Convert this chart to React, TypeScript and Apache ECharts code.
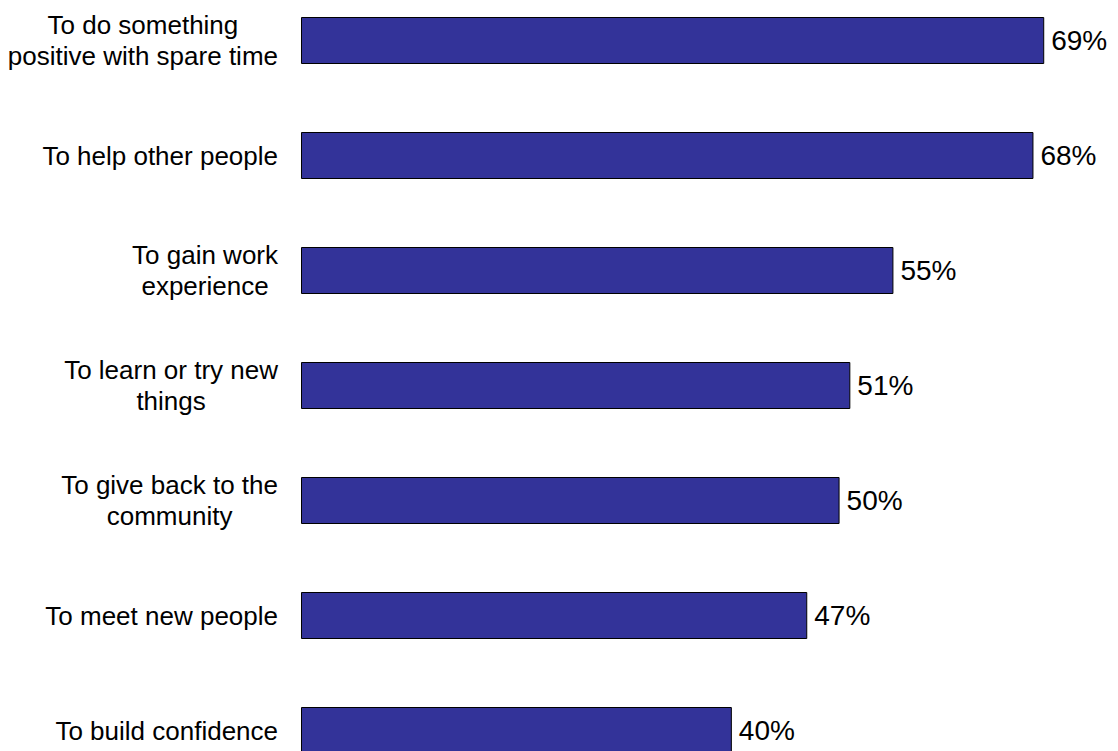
import React, { useEffect, useRef } from "react";
import * as echarts from "echarts";

const categories = [
  "To do something\npositive with spare time",
  "To help other people",
  "To gain work\nexperience",
  "To learn or try new\nthings",
  "To give back to the\ncommunity",
  "To meet new people",
  "To build confidence",
];
const values = [69, 68, 55, 51, 50, 47, 40];

const FONT = "'Liberation Sans', Arial, Helvetica, sans-serif";

export default function App() {
  const ref = useRef<HTMLDivElement>(null);
  useEffect(() => {
    if (!ref.current) return;
    const chart = echarts.init(ref.current, null, { renderer: "svg" });
    chart.setOption({
      animation: false,
      backgroundColor: "#ffffff",
      grid: { left: 301, top: 0, width: 754, height: 805, containLabel: false },
      xAxis: {
        type: "value",
        min: 0,
        max: 70,
        show: false,
      },
      yAxis: {
        type: "category",
        data: categories,
        inverse: true,
        axisLine: { show: false },
        axisTick: { show: false },
        splitLine: { show: false },
        axisLabel: {
          margin: 23,
          align: "right",
          color: "#000",
          fontSize: 26,
          fontFamily: FONT,
          formatter: (v: string) =>
            v
              .split("\n")
              .map((s) => `{c|${s}}`)
              .join("\n"),
          rich: {
            c: {
              align: "center",
              fontSize: 26,
              lineHeight: 31,
              fontFamily: FONT,
              color: "#000",
            },
          },
        },
      },
      series: [
        {
          type: "bar",
          data: values,
          barWidth: 47,
          itemStyle: { color: "#333399", borderColor: "#000", borderWidth: 1 },
          label: {
            show: true,
            position: "right",
            distance: 7,
            formatter: "{c}%",
            color: "#000",
            fontSize: 28,
            fontFamily: FONT,
          },
        },
      ],
    });
    return () => chart.dispose();
  }, []);
  return (
    <div
      style={{
        position: "fixed",
        left: 0,
        top: 0,
        width: 1118,
        height: 751,
        overflow: "hidden",
        background: "#fff",
      }}
    >
      <div
        ref={ref}
        style={{ position: "absolute", left: 0, top: -17, width: 1118, height: 805 }}
      />
    </div>
  );
}
